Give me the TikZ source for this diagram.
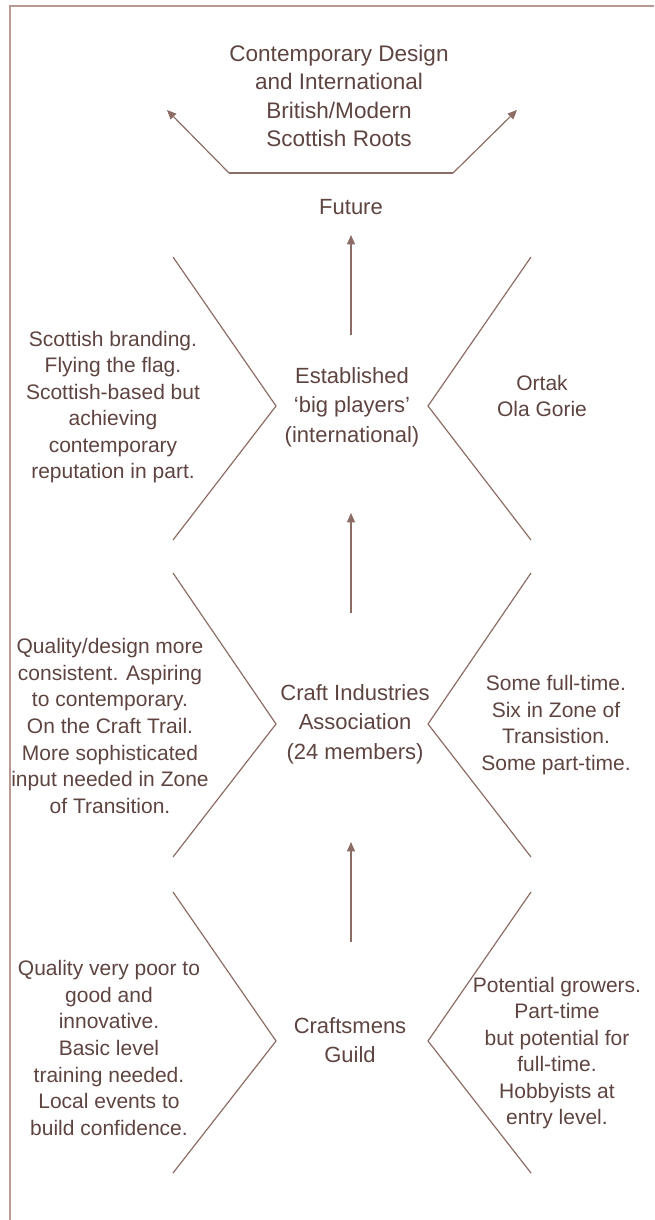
\documentclass[tikz,border=0pt]{standalone}
\usepackage{fontspec}
\setmainfont{Liberation Sans}
\usetikzlibrary{arrows.meta}
\definecolor{txt}{HTML}{5E4440}
\definecolor{ln}{HTML}{8C6D66}
\definecolor{frm}{HTML}{B89A93}
\begin{document}
\begin{tikzpicture}[x=0.75pt,y=-0.75pt,
  side/.style={text=txt,align=center,inner sep=0pt,font=\fontsize{15.75}{19.9}\selectfont},
  main/.style={text=txt,align=center,inner sep=0pt,font=\fontsize{16.5}{22}\selectfont},
  ttl/.style={text=txt,align=center,inner sep=0pt,font=\fontsize{16.9}{21.4}\selectfont},
  chev/.style={draw=ln,line width=0.9pt,line join=miter},
  arr/.style={draw=ln,line width=0.9pt,-{Triangle[length=7pt,width=6pt]}},
  frameline/.style={draw=frm,line width=1.7pt}]
\useasboundingbox (0,0) rectangle (654,1220);
\draw[frameline] (10,1220) -- (10,6) -- (654,6);

% title and top fork
\node[ttl] (title) at (339,96) {Contemporary Design\\and International\\British/Modern\\Scottish Roots};
\coordinate (fl) at (229,173);
\coordinate (fr) at (453,173);
\coordinate (tl) at (167,110);
\coordinate (tr) at (517,110);
\draw[chev] (fl) -- (fr);
\draw[arr] (fl) -- (tl);
\draw[arr] (fr) -- (tr);

\node[main] (future) at (351,207) {Future};

% level 1
\node[main] (est) at (352,407) {Established\\`big players'\\(international)};
\node[side] (l1) at (113,407) {Scottish branding.\\Flying the flag.\\Scottish-based but\\achieving\\contemporary\\reputation in part.};
\node[side] (r1) at (542,396) {Ortak\\Ola Gorie};
\draw[chev] (173,257) -- (276,406) -- (173,540);
\draw[chev] (531,257) -- (428,406) -- (531,540);
\coordinate (a1s) at (351,335);
\coordinate (a1e) at (351,235);
\draw[arr] (a1s) -- (a1e);

% level 2
\node[main] (cia) at (355,724) {Craft Industries\\Association\\(24 members)};
\node[side] (l2) at (110,726) {Quality/design more\\consistent. Aspiring\\to contemporary.\\On the Craft Trail.\\More sophisticated\\input needed in Zone\\of Transition.};
\node[side] (r2) at (556,725) {Some full-time.\\Six in Zone of\\Transistion.\\Some part-time.};
\draw[chev] (173,573) -- (276,724) -- (173,857);
\draw[chev] (531,573) -- (428,724) -- (531,857);
\coordinate (a2s) at (351,613);
\coordinate (a2e) at (351,513);
\draw[arr] (a2s) -- (a2e);

% level 3
\node[main] (cg) at (350,1040) {Craftsmens\\Guild};
\node[side] (l3) at (109,1048) {Quality very poor to\\good and\\innovative.\\Basic level\\training needed.\\Local events to\\build confidence.};
\node[side] (r3) at (557,1053) {Potential growers.\\Part-time\\but potential for\\full-time.\\Hobbyists at\\entry level.};
\draw[chev] (173,892) -- (276,1041) -- (173,1173);
\draw[chev] (531,892) -- (428,1041) -- (531,1173);
\coordinate (a3s) at (351,942);
\coordinate (a3e) at (351,842);
\draw[arr] (a3s) -- (a3e);
\end{tikzpicture}
\end{document}
